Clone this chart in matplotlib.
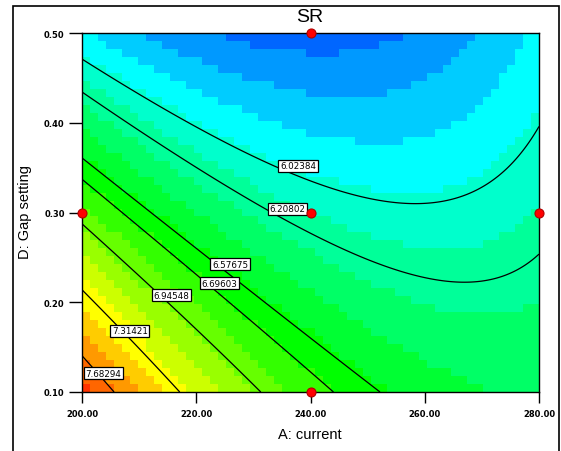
import numpy as np
import matplotlib
matplotlib.use("Agg")
import matplotlib.pyplot as plt
from matplotlib.colors import ListedColormap, BoundaryNorm
from matplotlib.patches import Rectangle

# response surface SR = f(a, d), a, d coded to [-1, 1]
b0, b1, b2 = 6.135, -0.367, -0.6315
b11, b22, b12 = 0.38, 0.0, 0.3725

a_range = [200.0, 280.0]          # A: current
d_range = [0.10, 0.50]            # D: Gap setting

levels = [6.02384, 6.20802, 6.57675, 6.69603, 6.94548, 7.31421, 7.68294]
label_A = [237.8, 235.9, 225.9, 224.0, 215.6, 208.4, 203.7]
label_D = [0.352, 0.304, 0.2426, 0.2214, 0.208, 0.168, 0.121]

design_A = [240, 200, 240, 280, 240]
design_D = [0.50, 0.30, 0.30, 0.30, 0.10]

xticks = [200, 220, 240, 260, 280]
xtick_labels = ["200.00", "220.00", "240.00", "260.00", "280.00"]
yticks = [0.10, 0.20, 0.30, 0.40, 0.50]
ytick_labels = ["0.10", "0.20", "0.30", "0.40", "0.50"]


def sr(A, D):
    a = (A - 240.0) / 40.0
    d = (D - 0.30) / 0.20
    return b0 + b1*a + b2*d + b11*a**2 + b22*d**2 + b12*a*d


# stepped blue-cyan-green-yellow-red palette
cols = []
for k in range(21):
    if k <= 5:
        c = (0, 51*k, 255)
    elif k <= 10:
        c = (0, 255, 255 - 51*(k-5))
    elif k <= 15:
        c = (51*(k-10), 255, 0)
    else:
        c = (255, 255 - 51*(k-15), 0)
    cols.append(tuple(v/255 for v in c))
cmap = ListedColormap(cols)
c0, step = 5.225, 0.14
bounds = [c0 + step*(k - 0.5) for k in range(22)]
norm = BoundaryNorm(bounds, cmap.N)

fig = plt.figure(figsize=(5.61, 4.52), dpi=100)
fig.patches.append(Rectangle((13/561, -0.05), (559-13)/561, 1.05 - 7/452,
                             transform=fig.transFigure, fill=False,
                             ec='black', lw=1.2))
ax = fig.add_axes([82/561, 1-393/452, 457/561, 359/452])

# coarse grid for the blocky colour field
xe = np.linspace(a_range[0], a_range[1], 58)
ye = np.linspace(d_range[0], d_range[1], 46)
xc = (xe[:-1] + xe[1:]) / 2
yc = (ye[:-1] + ye[1:]) / 2
Xc, Yc = np.meshgrid(xc, yc)
ax.pcolormesh(xe, ye, sr(Xc, Yc), cmap=cmap, norm=norm, shading='flat')

# fine grid for smooth contour lines
xf = np.linspace(a_range[0], a_range[1], 300)
yf = np.linspace(d_range[0], d_range[1], 300)
Xf, Yf = np.meshgrid(xf, yf)
ax.contour(Xf, Yf, sr(Xf, Yf), levels=levels, colors='black', linewidths=0.9)

for lv, la, ld in zip(levels, label_A, label_D):
    ax.text(la, ld, "%.5f" % lv, fontsize=6.3, ha='center', va='center',
            bbox=dict(boxstyle='square,pad=0.18', fc='white', ec='black', lw=0.9),
            zorder=5)

ax.plot(design_A, design_D, 'o', ms=6.5, mfc='#ff0000', mec='#b00000',
        mew=0.8, clip_on=False, zorder=6)

ax.set_xlim(a_range)
ax.set_ylim(d_range)
ax.set_xticks(xticks)
ax.set_xticklabels(xtick_labels, fontsize=6, fontweight='bold')
ax.set_yticks(yticks)
ax.set_yticklabels(ytick_labels, fontsize=6, fontweight='bold')
ax.tick_params(axis='x', direction='out', length=8, width=1, pad=4)
ax.tick_params(axis='y', direction='out', length=9.5, width=1, pad=3)
for s in ax.spines.values():
    s.set_linewidth(1)

fig.text(310/561, 1-18/452, "SR", fontsize=14, family='Liberation Sans',
         ha='center', va='center')
fig.text(310/561, 1-435/452, "A: current", fontsize=10.5, family='Liberation Sans',
         ha='center', va='center')
fig.text(25/561, 1-212/452, "D: Gap setting", fontsize=10.5, family='Liberation Sans',
         ha='center', va='center', rotation=90)

fig.savefig("out.png", dpi=100)
